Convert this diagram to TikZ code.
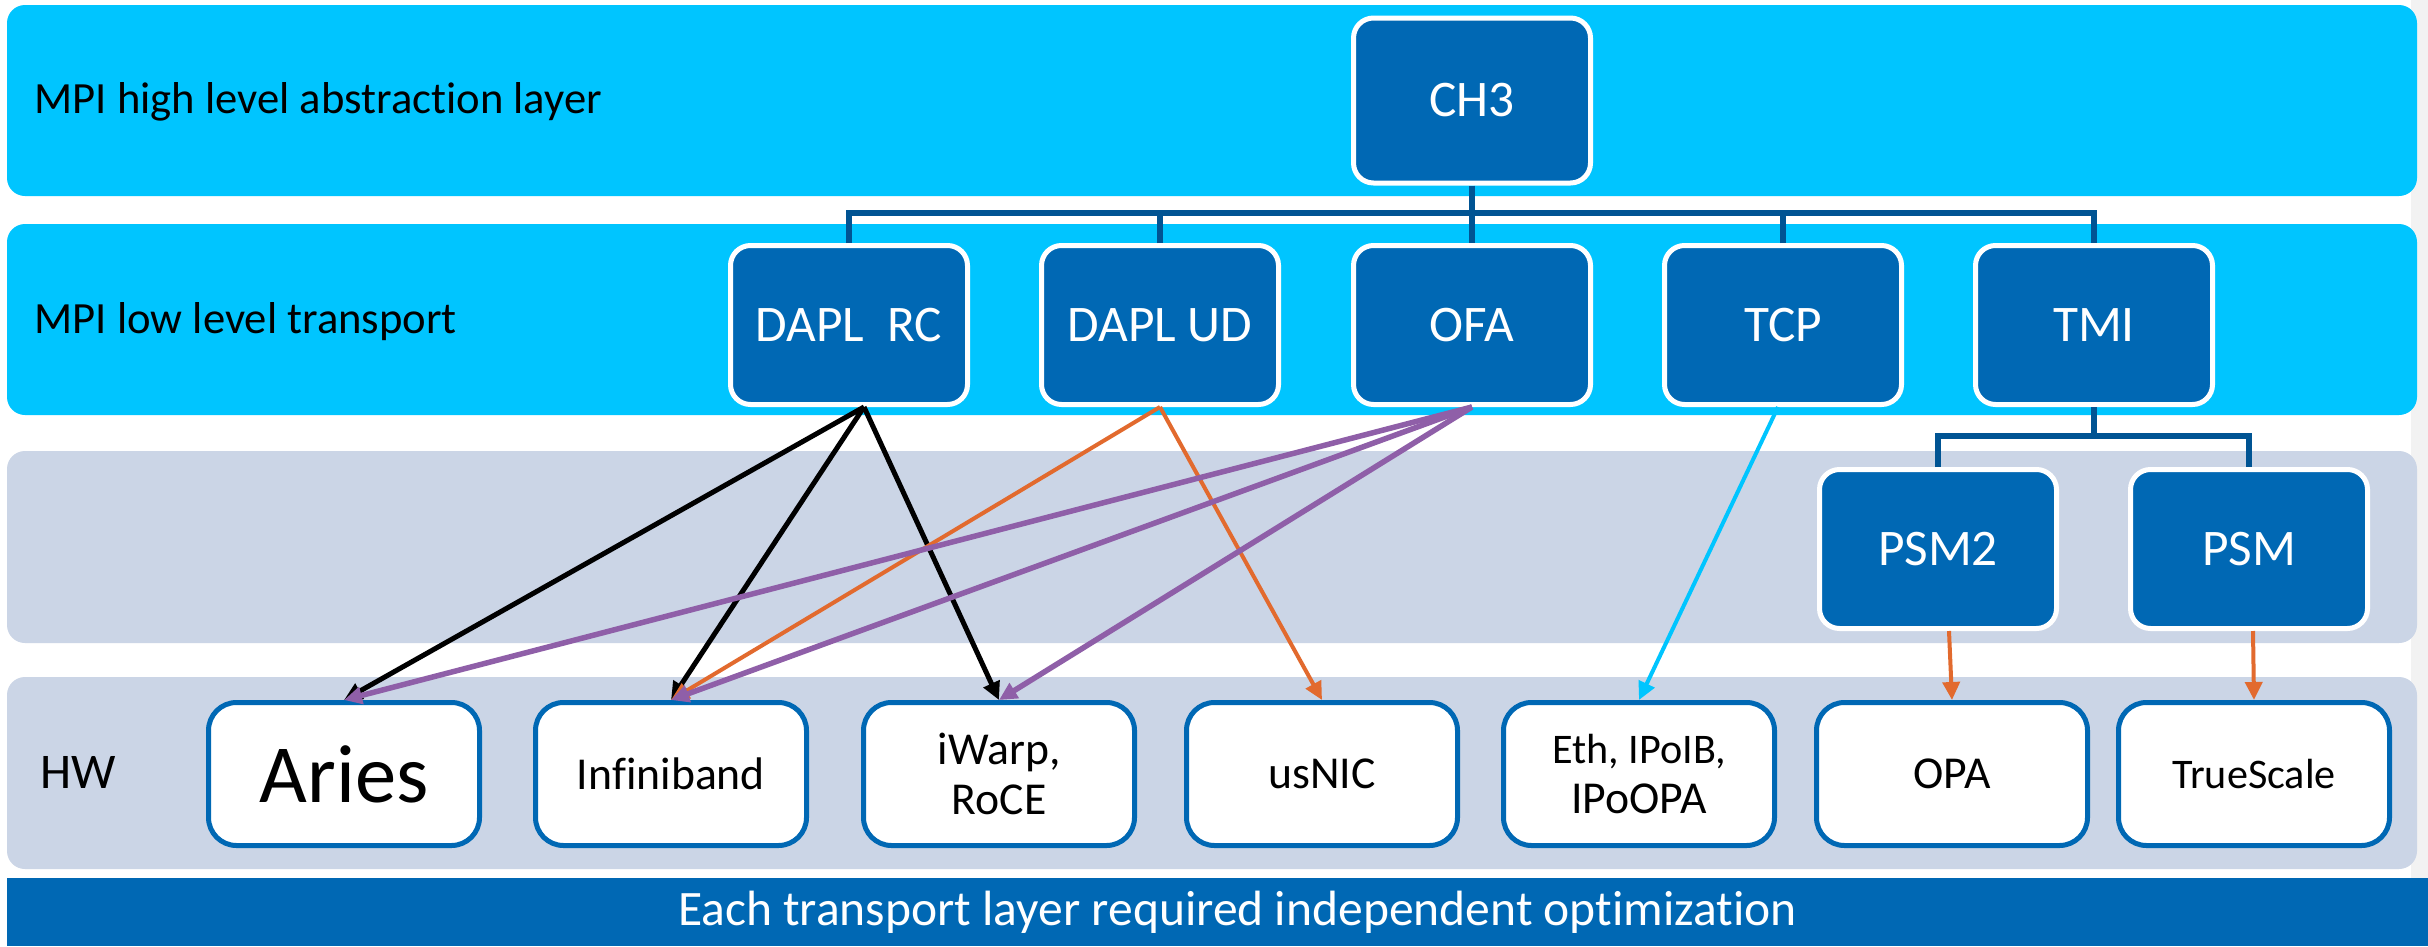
\documentclass[tikz,border=0pt]{standalone}
\usepackage{fontspec}
\setmainfont{Carlito}[Ligatures=NoCommon]
\usetikzlibrary{arrows.meta}

\definecolor{bandcyan}{RGB}{0,197,255}
\definecolor{bandgrey}{RGB}{203,213,230}
\definecolor{boxblue}{RGB}{0,104,180}
\definecolor{treeblue}{RGB}{0,84,147}
\definecolor{arrorange}{RGB}{226,106,46}
\definecolor{arrpurple}{RGB}{143,95,168}
\definecolor{stripgrey}{RGB}{242,242,242}

\begin{document}
\begin{tikzpicture}[x=1mm, y=1mm,
  band/.style={rounded corners=1.8mm},
  soft/.style={draw=white, line width=0.5mm, fill=boxblue, rounded corners=2mm,
    text=white, minimum width=23.7mm, minimum height=15.9mm, inner sep=0pt,
    font=\fontsize{14.6}{16}\selectfont},
  hw/.style={draw=boxblue, line width=0.5mm, fill=white, rounded corners=2.8mm,
    minimum width=27.1mm, minimum height=14.3mm, inner sep=0pt, align=center,
    font=\fontsize{13}{14.4}\selectfont},
  layer/.style={anchor=base west, inner sep=0pt, font=\fontsize{12.7}{15}\selectfont},
  tree/.style={treeblue, line width=0.55mm},
  link/.style={line width=0.4mm, -{Triangle[length=1.8mm, width=1.7mm]}}]

\useasboundingbox (0,0) rectangle (242.8,94.6);
\fill[white] (0,0) rectangle (242.8,94.6);
\fill[stripgrey] (241.1,6.8) rectangle (242.8,94.6);

\begin{scope}[band]
\fill[bandcyan] (0.7,94.1) rectangle (241.7,75.0);
\fill[bandcyan] (0.7,72.2) rectangle (241.7,53.1);
\fill[bandgrey] (0.7,49.5) rectangle (241.7,30.3);
\fill[bandgrey] (0.7,26.9) rectangle (241.7,7.7);
\end{scope}

\fill[boxblue] (0.7,0) rectangle (242.8,6.8);
\node[text=white, font=\fontsize{14.1}{16}\selectfont] (note) at (123.75,3.4)
  {Each transport layer required independent optimization};

\node[layer] (high) at (3.4,83.3) {MPI high level abstraction layer};
\node[layer] (low) at (3.4,61.3) {MPI low level transport};
\node[layer, font=\fontsize{14.2}{16}\selectfont] (hwlabel) at (4.0,15.8) {HW};

% software stack
\node[soft, minimum height=16.5mm] (ch3) at (147.2,84.55) {CH3};
\foreach \name/\x/\txt in {rc/84.9/{DAPL\ \ RC}, ud/116.0/{DAPL UD}, ofa/147.2/OFA,
                          tcp/178.3/TCP, tmi/209.4/TMI}
  \node[soft] (\name) at (\x,62.1) {\txt};
\node[soft] (psm2) at (193.8,39.7) {PSM2};
\node[soft] (psm) at (224.9,39.7) {PSM};

% hardware
\foreach \name/\x/\txt in {aries/34.4/{\fontsize{23.5}{26}\selectfont Aries},
                          ib/67.1/Infiniband, iwarp/99.9/{iWarp,\\RoCE},
                          usnic/132.2/usNIC,
                          eth/163.9/{\fontsize{12}{13.4}\selectfont Eth, IPoIB,\\IPoOPA},
                          opa/195.2/OPA, ts/225.4/{\fontsize{12}{14}\selectfont TrueScale}}
  \node[hw] (\name) at (\x,17.2) {\txt};

\coordinate (bus) at (0,73.3);
\coordinate (fork) at (0,51.0);

\begin{scope}[tree]
\draw (ch3.south) -- (ofa.north);
\draw (rc.north) -- (rc.north |- bus) -| (tmi.north);
\foreach \n in {ud, tcp}
  \draw (\n.north) -- (\n.north |- bus);
\draw (tmi.south) -- (tmi.south |- fork);
\draw (psm2.north) -- (psm2.north |- fork) -| (psm.north);
\end{scope}

\coordinate (rc-out) at ([xshift=1.5mm]rc.south);
\coordinate (tcp-out) at ([xshift=-0.5mm]tcp.south);
\coordinate (psm2-out) at ([xshift=1.1mm]psm2.south);
\coordinate (psm-out) at ([xshift=0.4mm]psm.south);

\begin{scope}[link]
\foreach \hw in {aries, ib, iwarp}
  \draw[black, line width=0.5mm] (rc-out) -- (\hw.north);
\foreach \hw in {ib, usnic}
  \draw[arrorange] (ud.south) -- (\hw.north);
\foreach \hw in {aries, ib, iwarp}
  \draw[arrpurple, line width=0.55mm] (ofa.south) -- (\hw.north);
\draw[bandcyan] (tcp-out) -- (eth.north);
\draw[arrorange] (psm2-out) -- (opa.north);
\draw[arrorange] (psm-out) -- (ts.north);
\end{scope}

\end{tikzpicture}
\end{document}
